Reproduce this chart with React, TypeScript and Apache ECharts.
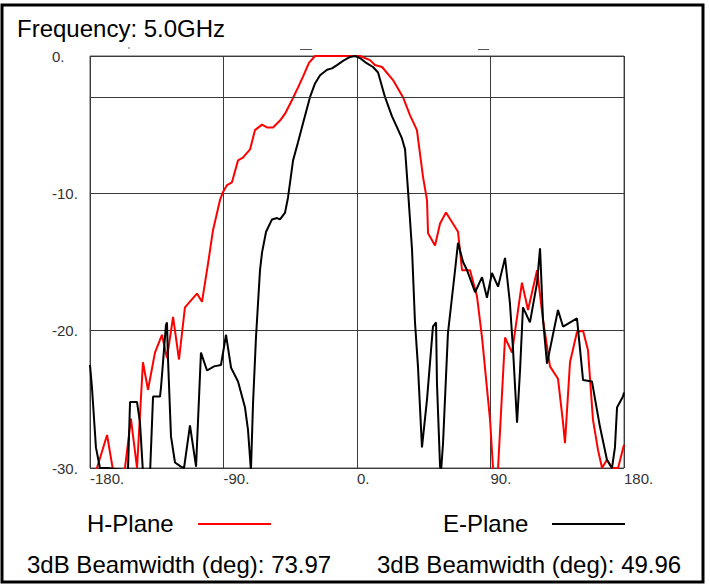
import React, { useEffect, useRef } from "react";
import * as echarts from "echarts";

const title = "Frequency: 5.0GHz";
const xTicks = [-180, -90, 0, 90, 180];
const yTicks = [-30, -20, -10, 0];
const refLevel = -3;

const hAngles = [-180, -175.3, -168.5, -163.8, -157.1, -152.4, -148.3, -144.3, -140.9, -136.2, -131.5, -128.1, -124.0, -120.0, -116.0, -111.9, -107.9, -104.5, -100.4, -97.1, -92.4, -90.3, -87.6, -84.3, -80.2, -76.9, -72.1, -68.8, -64.0, -60.7, -56.6, -51.9, -48.5, -43.8, -39.8, -36.4, -32.4, -28.3, 0, 2, 8.8, 12.1, 16.9, 24.3, 31.0, 35.7, 40.4, 44.5, 47.2, 47.9, 52.6, 56.0, 60.0, 68.1, 70.8, 76.2, 80.9, 84.3, 89.7, 91.7, 93.4, 95.1, 97.8, 99.8, 104.5, 111.2, 115.3, 121.4, 125.4, 130.1, 135.5, 138.9, 140.2, 143.6, 148.3, 152.4, 155.7, 159.1, 162.5, 165.2, 168.5, 171.9, 176.0, 180];
const hValues = [-33, -30, -27.6, -30.6, -30.6, -26.4, -30, -22.3, -24.3, -21.6, -20.3, -22.0, -19.0, -22.1, -18.3, -17.8, -17.3, -17.9, -15.1, -12.7, -10.5, -9.9, -9.4, -9.2, -7.6, -7.4, -6.8, -5.4, -5.0, -5.2, -5.2, -4.7, -4.2, -3.2, -2.3, -1.5, -0.5, 0, 0, 0, -0.3, -0.66, -0.8, -1.75, -3.0, -4.3, -5.4, -8.8, -10.5, -12.9, -13.8, -12.2, -11.4, -12.8, -15.6, -15.6, -17.5, -20.5, -26.5, -30, -32, -30, -24.5, -20.5, -21.6, -16.5, -18.5, -15.6, -19.2, -22.6, -23.5, -26.7, -28.2, -22.3, -20.1, -20.0, -21.4, -26.5, -28.7, -30, -29.4, -30, -30, -28.3];

const eAngles = [-180, -178.7, -176.0, -173.3, -167.9, -154.4, -153.0, -148.3, -146.3, -144.3, -139.5, -137.5, -132.8, -132.1, -128.8, -128.1, -127.4, -125.4, -122.7, -118.7, -116.6, -112.6, -108.5, -105.2, -101.1, -96.4, -91.7, -88.3, -84.9, -80.2, -75.5, -73.5, -71.5, -70.1, -68.1, -65.4, -64.0, -61.3, -57.3, -53.9, -51.9, -48.5, -46.5, -43.1, -39.8, -36.4, -31.7, -28.3, -24.9, -20.2, -16.9, -13.5, -9.4, -4.7, -1.3, 2.0, 5.4, 10.8, 14.2, 18.9, 23.6, 27.0, 30.3, 32.4, 34.4, 37.1, 39.1, 41.1, 43.8, 47.2, 51.2, 53.3, 53.9, 56.0, 56.7, 58.0, 61.3, 66.1, 68.1, 71.5, 74.2, 79.6, 84.3, 87.6, 91.0, 95.1, 99.8, 103.1, 105.2, 107.9, 109.9, 111.9, 116.6, 121.4, 123.4, 125.4, 128.1, 135.5, 138.9, 148.3, 152.4, 158.4, 163.8, 168.5, 171.9, 173.9, 175.3, 179.3, 180];
const eValues = [-22.5, -24.1, -28.5, -30, -30, -30.2, -25.2, -25.2, -26.7, -30.3, -30.3, -24.8, -24.8, -24.1, -19.6, -19.4, -22.1, -27.7, -29.6, -29.9, -30, -26.9, -29.9, -21.6, -22.9, -22.6, -22.5, -20.3, -22.7, -23.7, -25.6, -27.2, -30.2, -25.3, -20.5, -15.6, -14.3, -12.8, -11.9, -11.8, -11.9, -11.4, -10.3, -7.6, -6.3, -4.9, -3.0, -2.0, -1.4, -1.0, -0.9, -0.66, -0.36, -0.07, 0, -0.15, -0.44, -0.8, -1.2, -3.0, -4.4, -5.2, -6.0, -6.8, -9.8, -14.1, -19.4, -22.6, -28.5, -25.0, -19.7, -19.4, -23.8, -29.9, -30.2, -28.2, -20.2, -15.6, -13.6, -15.0, -15.6, -17.2, -16.1, -17.6, -15.8, -16.8, -14.7, -18.0, -21.4, -26.7, -22.9, -18.3, -19.4, -16.5, -14.0, -19.2, -22.4, -18.5, -19.7, -19.1, -23.6, -23.7, -27.0, -29.4, -30, -28.5, -25.6, -24.8, -24.5];

const hLabel = "H-Plane";
const eLabel = "E-Plane";
const hBeam = "3dB Beamwidth (deg): 73.97";
const eBeam = "3dB Beamwidth (deg): 49.96";

const FONT = "'Liberation Sans', Arial, sans-serif";

export default function App() {
  const ref = useRef<HTMLDivElement>(null);
  useEffect(() => {
    if (!ref.current) return;
    const chart = echarts.init(ref.current, undefined, { renderer: "svg" });
    const hData = hAngles.map((a, i) => [a, hValues[i]]);
    const eData = eAngles.map((a, i) => [a, eValues[i]]);
    const gridColor = "#3a3a3a";
    chart.setOption({
      animation: false,
      backgroundColor: "#ffffff",
      grid: { left: 90, right: 86, top: 56, bottom: 118, show: true, borderColor: "#555", borderWidth: 1, backgroundColor: "transparent" },
      xAxis: {
        type: "value",
        min: xTicks[0],
        max: xTicks[xTicks.length - 1],
        interval: 90,
        axisLine: { show: false },
        axisTick: { show: false },
        splitLine: { show: true, lineStyle: { color: gridColor, width: 1 } },
        axisLabel: { align: "left", margin: 3, fontFamily: FONT, fontSize: 15, color: "#333", formatter: (v: number) => `${v}.` },
      },
      yAxis: {
        type: "value",
        min: yTicks[0],
        max: yTicks[yTicks.length - 1],
        interval: 10,
        axisLine: { show: false },
        axisTick: { show: false },
        splitLine: { show: true, lineStyle: { color: gridColor, width: 1 } },
        axisLabel: { align: "left", margin: 38, fontFamily: FONT, fontSize: 15, color: "#333", padding: [4, 0, 0, 0], formatter: (v: number) => `${v}.` },
      },
      series: [
        {
          type: "line",
          name: hLabel,
          data: hData,
          symbol: "none",
          clip: true,
          lineStyle: { color: "#ff0000", width: 2 },
          markLine: {
            silent: true,
            symbol: "none",
            label: { show: false },
            lineStyle: { color: gridColor, width: 1, type: "solid" },
            data: [{ yAxis: refLevel }],
          },
          z: 3,
        },
        {
          type: "line",
          name: eLabel,
          data: eData,
          symbol: "none",
          clip: true,
          lineStyle: { color: "#000000", width: 2 },
          z: 4,
        },
      ],
      graphic: [
        { type: "rect", shape: { x: 2, y: 5, width: 701, height: 577 }, style: { fill: "none", stroke: "#000", lineWidth: 3 }, silent: true },
        { type: "text", x: 17, y: 28, style: { text: title, font: `24px ${FONT}`, fill: "#000", verticalAlign: "middle" } },
        { type: "line", shape: { x1: 129, y1: 47, x2: 129, y2: 49 }, style: { stroke: "#666", lineWidth: 1 } },
        { type: "line", shape: { x1: 300, y1: 49.5, x2: 312, y2: 49.5 }, style: { stroke: "#555", lineWidth: 1 } },
        { type: "line", shape: { x1: 478, y1: 49.5, x2: 489, y2: 49.5 }, style: { stroke: "#555", lineWidth: 1 } },
        { type: "text", x: 87, y: 523, style: { text: hLabel, font: `24px ${FONT}`, fill: "#000", verticalAlign: "middle" } },
        { type: "line", shape: { x1: 198, y1: 524, x2: 271, y2: 524 }, style: { stroke: "#ff0000", lineWidth: 2 } },
        { type: "text", x: 443, y: 523, style: { text: eLabel, font: `24px ${FONT}`, fill: "#000", verticalAlign: "middle" } },
        { type: "line", shape: { x1: 552, y1: 524, x2: 625, y2: 524 }, style: { stroke: "#000", lineWidth: 2 } },
        { type: "text", x: 27, y: 564, style: { text: hBeam, font: `24px ${FONT}`, fill: "#000", verticalAlign: "middle" } },
        { type: "text", x: 377, y: 564, style: { text: eBeam, font: `24px ${FONT}`, fill: "#000", verticalAlign: "middle" } },
      ],
    });
    return () => chart.dispose();
  }, []);
  return <div ref={ref} style={{ position: "fixed", left: 0, top: 0, width: 710, height: 586, background: "#fff" }} />;
}
